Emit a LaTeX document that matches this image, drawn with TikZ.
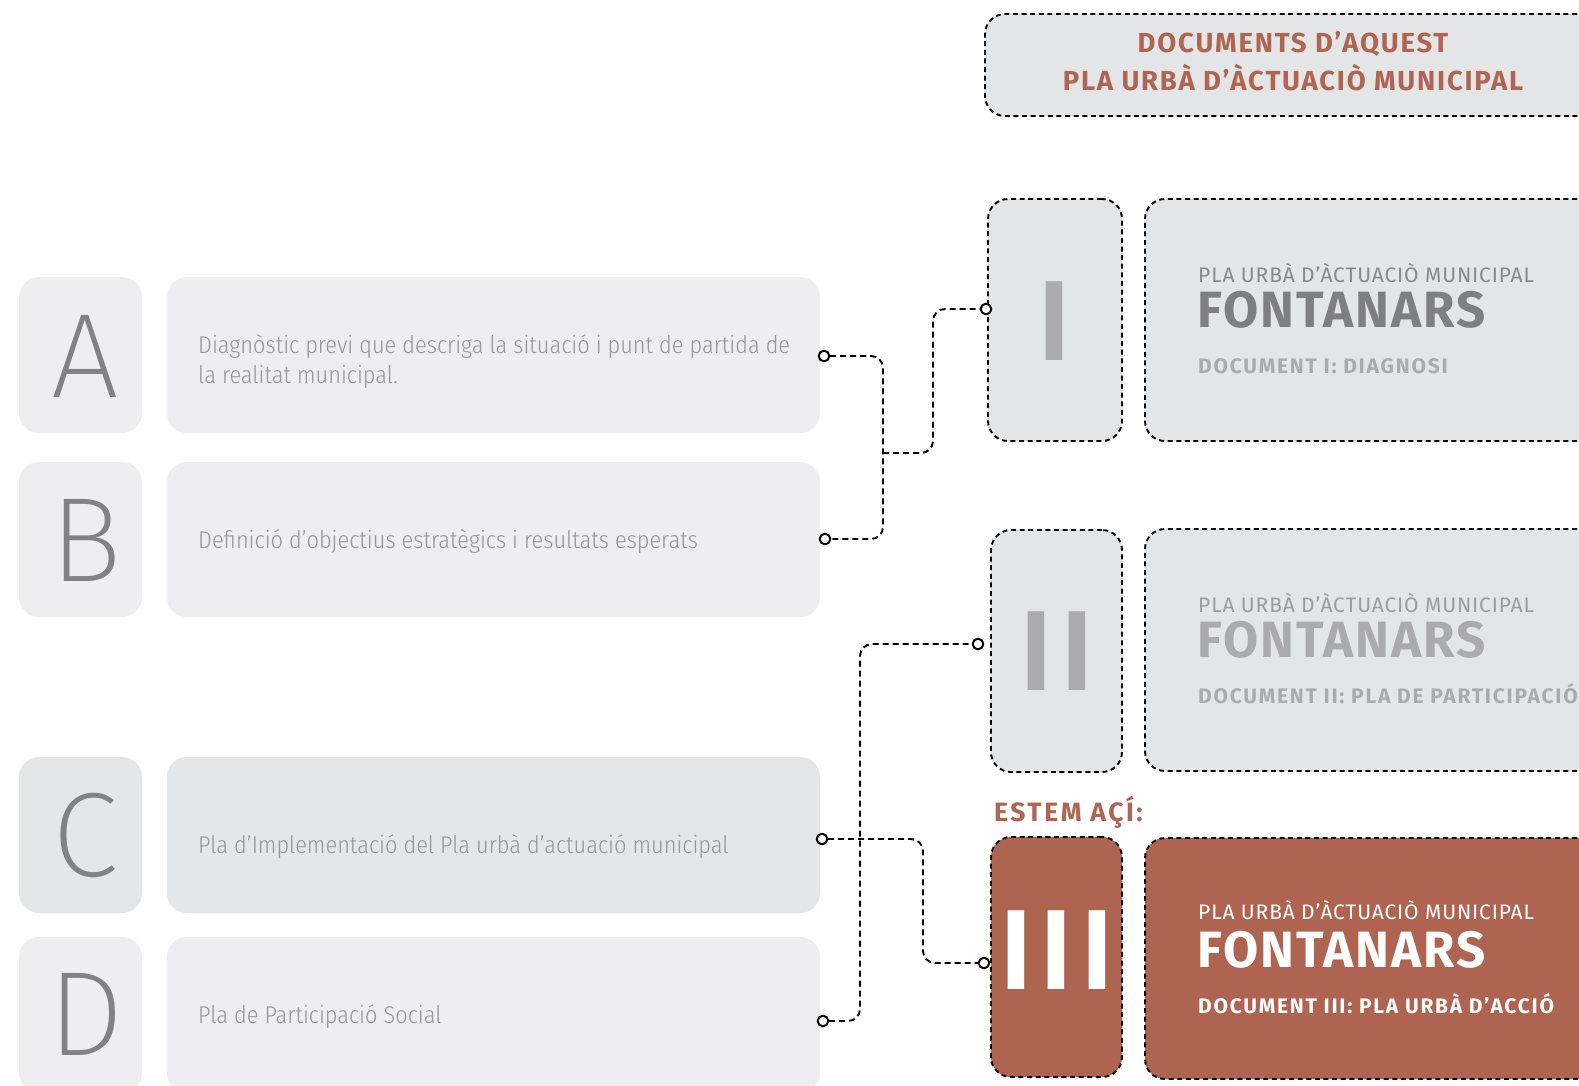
\documentclass[tikz,border=0pt]{standalone}
\usepackage{fontspec}
\setmainfont{Fira Sans}
\IfFontExistsTF{Fira Sans Condensed Book}{\newfontfamily\lightf{Fira Sans Condensed Book}}{%
 \IfFontExistsTF{Fira Sans Condensed Light}{\newfontfamily\lightf{Fira Sans Condensed Light}}{%
  \IfFontExistsTF{Fira Sans Book}{\newfontfamily\lightf{Fira Sans Book}}{%
   \IfFontExistsTF{Fira Sans Light}{\newfontfamily\lightf{Fira Sans Light}}{%
    \newfontfamily\lightf{Fira Sans}}}}}
\IfFontExistsTF{Fira Sans ExtraLight}{\newfontfamily\thinf{Fira Sans ExtraLight}}{%
 \IfFontExistsTF{Fira Sans Thin}{\newfontfamily\thinf{Fira Sans Thin}}{%
  \IfFontExistsTF{Lato Thin}{\newfontfamily\thinf{Lato Thin}}{%
   \IfFontExistsTF{Open Sans Light}{\newfontfamily\thinf{Open Sans Light}}{%
    \newfontfamily\thinf{Fira Sans}}}}}
\newfontfamily\smallf{Fira Sans}[LetterSpace=4]
\newfontfamily\headf{Fira Sans}[LetterSpace=6.5]
\newfontfamily\estf{Fira Sans}[LetterSpace=9.5]
\newfontfamily\docf{Fira Sans}[LetterSpace=8.3]
\newfontfamily\bigf{Fira Sans}[LetterSpace=4]
\newfontfamily\numf{Liberation Sans}
\definecolor{lightbox}{HTML}{EEEEF0}
\definecolor{darkbox}{HTML}{E5E6E8}
\definecolor{dboxfill}{HTML}{E4E5E7}
\definecolor{terra}{HTML}{AE6450}
\definecolor{terratext}{HTML}{B06551}
\definecolor{bargray}{HTML}{ABABAD}
\definecolor{lettergray}{HTML}{828284}
\definecolor{bodygray}{HTML}{98989A}
\definecolor{gA}{HTML}{89898B}
\definecolor{gB}{HTML}{7F7F81}
\definecolor{gC}{HTML}{ABABAD}
\definecolor{gD}{HTML}{9C9C9E}
\newlength\measlen
\begin{document}
\settowidth\measlen{\lightf\fontsize{10}{10}\selectfont Diagnòstic previ que descriga la situació i punt de partida de}%
\pgfmathsetmacro\bodysz{10*592/\measlen}%
\begin{tikzpicture}[x=1pt,y=-1pt,
  lbox/.style={fill=lightbox, rounded corners=20pt, inner sep=0pt},
  dbox/.style={draw=black, fill=dboxfill, line width=1.9pt, dash pattern=on 5pt off 3.6pt, rounded corners=20pt, inner sep=0pt},
  conn/.style={draw=black, line width=1.9pt, dash pattern=on 6pt off 4pt, rounded corners=12pt},
  dot/.style={circle, draw=black, fill=white, line width=1.8pt, inner sep=0pt, minimum size=10.5pt},
  letter/.style={anchor=base, inner sep=0pt, text=lettergray, font=\thinf\fontsize{120}{120}\selectfont},
  body/.style={anchor=base west, inner sep=0pt, text=bodygray, font=\lightf\fontsize{\bodysz}{30}\selectfont},
  small/.style={anchor=base west, inner sep=0pt, font=\smallf\fontsize{21}{21}\selectfont},
  big/.style={anchor=base west, inner sep=0pt, font=\bigf\bfseries\fontsize{51}{51}\selectfont},
  doc/.style={anchor=base west, inner sep=0pt, font=\docf\bfseries\fontsize{21}{21}\selectfont},
  head/.style={anchor=base, inner sep=0pt, text=terratext, font=\headf\bfseries\fontsize{27.5}{27.5}\selectfont},
  num/.style={anchor=base, inner sep=0pt, font=\numf\bfseries\fontsize{114.5}{114.5}\selectfont}
]
\useasboundingbox (0,0) rectangle (1579,1085);
\clip (0,0) rectangle (1579,1085);
\fill[white] (0,0) rectangle (1579,1085);

% left letter boxes
\node[lbox, minimum width=123pt, minimum height=156pt] (LA) at (80.5,355) {};
\node[lbox, minimum width=123pt, minimum height=155pt] (LB) at (80.5,539.5) {};
\node[lbox, fill=darkbox, minimum width=123pt, minimum height=156pt] (LC) at (80.5,835) {};
\node[lbox, minimum width=123pt, minimum height=156pt] (LD) at (80.5,1015) {};
% left text boxes
\node[lbox, minimum width=653pt, minimum height=156pt] (TA) at (493.5,355) {};
\node[lbox, minimum width=653pt, minimum height=155pt] (TB) at (493.5,539.5) {};
\node[lbox, fill=darkbox, minimum width=653pt, minimum height=156pt] (TC) at (493.5,835) {};
\node[lbox, minimum width=653pt, minimum height=156pt] (TD) at (493.5,1015) {};

\node[letter] (lA) at (85,397) {A};
\node[letter] (lB) at (86,581) {B};
\node[letter] (lC) at (85,876) {C};
\node[letter] (lD) at (86,1055) {D};

\node[body] (xA1) at (198,353) {Diagnòstic previ que descriga la situació i punt de partida de};
\node[body] (xA2) at (198,383) {la realitat municipal.};
\node[body] (xB) at (198,548) {Definició d’objectius estratègics i resultats esperats};
\node[body] (xC) at (198,853) {Pla d’Implementació del Pla urbà d’actuació municipal};
\node[body] (xD) at (198,1023) {Pla de Participació Social};

% header
\node[dbox, minimum width=655pt, minimum height=102pt] (H) at (1312.5,65) {};
\node[head] (h1) at (1293,52.3) {DOCUMENTS D’AQUEST};
\node[head] (h2) at (1293,90) {PLA URBÀ D’ÀCTUACIÒ MUNICIPAL};

% document I
\node[dbox, minimum width=134pt, minimum height=242pt] (N1) at (1055,320) {};
\node[dbox, minimum width=495pt, minimum height=242pt] (D1) at (1392.5,320) {};
\node[num, text=bargray] (n1) at (1054,360) {I};
\node[small, text=gA] (d1a) at (1198,282) {PLA URBÀ D’ÀCTUACIÒ MUNICIPAL};
\node[big, text=gB] (d1b) at (1197,327) {FONTANARS};
\node[doc, text=gC] (d1c) at (1198,373) {DOCUMENT I: DIAGNOSI};

% document II
\node[dbox, minimum width=131pt, minimum height=242pt] (N2) at (1056.5,651) {};
\node[dbox, minimum width=495pt, minimum height=242pt] (D2) at (1392.5,650) {};
\node[num, text=bargray] (n2) at (1056.5,690) {\makebox[41pt]{I}\makebox[41pt]{I}};
\node[small, text=gD] (d2a) at (1198,612) {PLA URBÀ D’ÀCTUACIÒ MUNICIPAL};
\node[big, text=gC] (d2b) at (1197,657) {FONTANARS};
\node[doc, text=gC] (d2c) at (1198,703) {DOCUMENT II: PLA DE PARTICIPACIÓ};

% estem aci
\node[anchor=base west, inner sep=0pt, text=terratext, font=\estf\bfseries\fontsize{26.5}{26.5}\selectfont] (est) at (994,821) {ESTEM AÇÍ:};

% document III
\node[dbox, fill=terra, minimum width=131pt, minimum height=240pt] (N3) at (1056.5,957) {};
\node[dbox, fill=terra, minimum width=495pt, minimum height=241pt] (D3) at (1392.5,958.5) {};
\node[num, text=white] (n3) at (1056.5,989) {\makebox[40.5pt]{I}\makebox[40.5pt]{I}\makebox[40.5pt]{I}};
\node[small, text=white] (d3a) at (1198,919) {PLA URBÀ D’ÀCTUACIÒ MUNICIPAL};
\node[big, text=white] (d3b) at (1197,967) {FONTANARS};
\node[doc, text=white] (d3c) at (1198,1013) {DOCUMENT III: PLA URBÀ D’ACCIÓ};

% connectors
\node[dot] (pA) at (824,356) {};
\node[dot] (pB) at (825,539) {};
\node[dot] (pC) at (822,839) {};
\node[dot] (pD) at (823,1021) {};
\node[dot] (p1) at (986,309) {};
\node[dot] (p2) at (978,644) {};
\node[dot] (p3) at (984,963) {};
\coordinate (jAB) at (883,453);

\draw[conn] (pA.east) -| (jAB) |- (pB.east);
\draw[conn] (jAB) -| (933,309) -- (p1.west);
\draw[conn] (pD.east) -| (860,644) -- (p2.west);
\draw[conn] (pC.east) -| (923,963) -- (p3.west);
\foreach \p in {pA,pB,pC,pD,p1,p2,p3} {\node[dot] at (\p) {};}
\end{tikzpicture}
\end{document}
